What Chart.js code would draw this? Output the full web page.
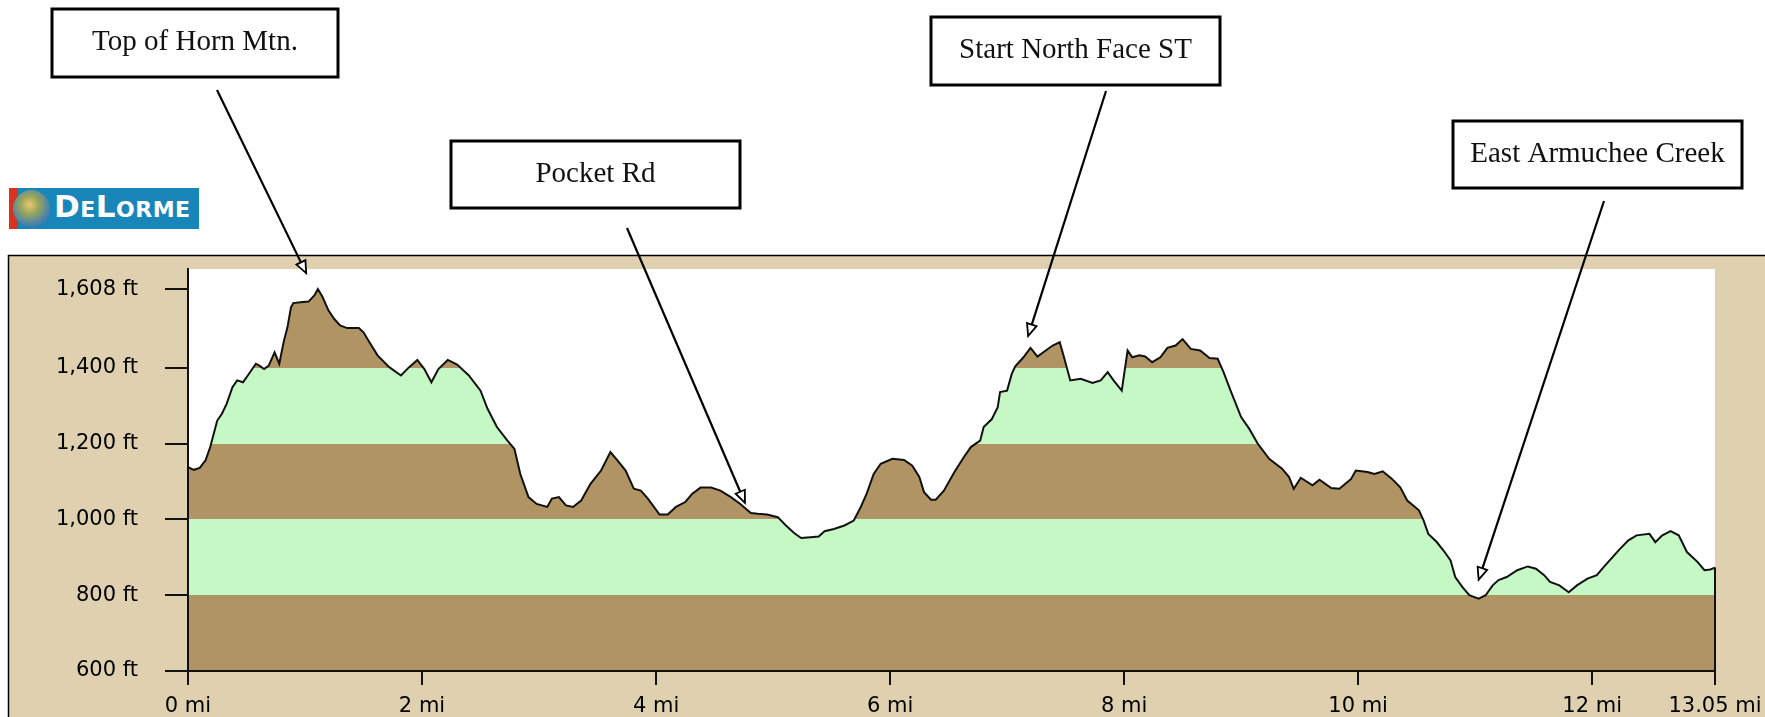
<!DOCTYPE html>
<html>
<head>
<meta charset="utf-8">
<title>Elevation profile</title>
<script src="https://cdn.jsdelivr.net/npm/chart.js@4.4.1/dist/chart.umd.min.js"></script>
<style>
  html, body { margin: 0; padding: 0; background: #fff; overflow: hidden; }
  #wrap { position: relative; width: 1765px; height: 717px; }
  #profile { position: absolute; left: 0; top: 0; }
  .logo {
    position: absolute; left: 9px; top: 188px; width: 190px; height: 41px; overflow: hidden;
    background: linear-gradient(90deg, #d6341f 0px, #d6341f 9px, #1886b9 9px);
  }
  .logo .globe {
    position: absolute; left: 4px; top: 2px; width: 37px; height: 37px; border-radius: 50%;
    background: radial-gradient(circle at 45% 40%, #e9c773 0%, #9aa55a 30%, #4f86a8 62%, #2a5f93 100%);
  }
  .logo .name {
    position: absolute; left: 45px; top: 0; line-height: 41px; color: #fff;
    font: bold 31px "DejaVu Sans"; font-variant: small-caps; letter-spacing: 0.5px;
  }
</style>
</head>
<body>
<div id="wrap">
  <canvas id="profile" width="1765" height="717"></canvas>
  <div class="logo"><div class="globe"></div><div class="name">DeLorme</div></div>
</div>
<script>
// Profile samples: distance (mi) and elevation (ft)
const miles = [
  0.00, 0.05, 0.10, 0.15, 0.19, 0.22, 0.25, 0.29, 0.33, 0.38, 0.42, 0.47, 0.52, 0.58, 0.61, 0.65,
  0.69, 0.74, 0.78, 0.82, 0.85, 0.88, 0.90, 0.96, 1.03, 1.08, 1.11, 1.15, 1.20, 1.25, 1.30, 1.36,
  1.46, 1.50, 1.56, 1.62, 1.72, 1.82, 1.89, 1.96, 2.02, 2.08, 2.14, 2.22, 2.30, 2.40, 2.50, 2.56,
  2.64, 2.73, 2.79, 2.84, 2.91, 2.98, 3.07, 3.11, 3.17, 3.23, 3.29, 3.36, 3.44, 3.53, 3.61, 3.67,
  3.74, 3.81, 3.87, 3.93, 4.03, 4.10, 4.17, 4.25, 4.31, 4.38, 4.47, 4.55, 4.64, 4.72, 4.81, 4.87,
  4.95, 5.04, 5.11, 5.18, 5.24, 5.32, 5.39, 5.44, 5.52, 5.61, 5.69, 5.75, 5.80, 5.86, 5.92, 6.02,
  6.12, 6.19, 6.25, 6.29, 6.35, 6.39, 6.46, 6.55, 6.63, 6.69, 6.77, 6.80, 6.87, 6.92, 6.94, 7.00,
  7.04, 7.07, 7.14, 7.20, 7.26, 7.33, 7.39, 7.45, 7.49, 7.54, 7.63, 7.73, 7.80, 7.86, 7.91, 7.98,
  8.03, 8.07, 8.13, 8.18, 8.24, 8.31, 8.37, 8.44, 8.50, 8.57, 8.65, 8.73, 8.80, 8.85, 8.91, 9.00,
  9.07, 9.14, 9.24, 9.35, 9.41, 9.45, 9.51, 9.61, 9.67, 9.77, 9.84, 9.94, 9.98, 10.08, 10.14, 10.21,
  10.29, 10.36, 10.42, 10.52, 10.56, 10.60, 10.67, 10.73, 10.79, 10.83, 10.89, 10.95, 11.03, 11.09, 11.15, 11.20,
  11.27, 11.36, 11.45, 11.52, 11.59, 11.64, 11.72, 11.80, 11.87, 11.96, 12.04, 12.10, 12.19, 12.24, 12.31, 12.38,
  12.49, 12.54, 12.60, 12.67, 12.74, 12.81, 12.90, 12.96, 13.01, 13.05
];
const elevations = [
  1138, 1131, 1136, 1156, 1191, 1226, 1261, 1279, 1305, 1349, 1367, 1362, 1384, 1411, 1406, 1397,
  1406, 1441, 1411, 1472, 1507, 1560, 1571, 1573, 1575, 1591, 1608, 1587, 1552, 1529, 1512, 1505,
  1505, 1494, 1463, 1433, 1402, 1380, 1402, 1421, 1397, 1362, 1397, 1421, 1409, 1380, 1340, 1292,
  1244, 1208, 1186, 1120, 1059, 1041, 1033, 1055, 1059, 1037, 1033, 1050, 1094, 1129, 1178, 1156,
  1129, 1081, 1076, 1055, 1013, 1013, 1033, 1046, 1068, 1084, 1084, 1076, 1059, 1041, 1017, 1015,
  1013, 1006, 984, 964, 951, 953, 955, 969, 975, 984, 997, 1033, 1068, 1120, 1147, 1160,
  1157, 1142, 1112, 1072, 1052, 1052, 1076, 1125, 1164, 1191, 1208, 1244, 1265, 1296, 1336, 1340,
  1384, 1404, 1428, 1453, 1430, 1446, 1459, 1468, 1424, 1367, 1371, 1360, 1367, 1389, 1367, 1340,
  1446, 1428, 1433, 1430, 1415, 1428, 1453, 1459, 1476, 1450, 1446, 1426, 1424, 1389, 1340, 1270,
  1239, 1201, 1160, 1134, 1112, 1081, 1110, 1090, 1105, 1083, 1081, 1107, 1129, 1125, 1120, 1127,
  1107, 1085, 1050, 1024, 997, 962, 941, 918, 892, 848, 822, 800, 791, 800, 826, 840,
  848, 866, 876, 870, 853, 835, 826, 808, 826, 844, 853, 875, 906, 923, 945, 958,
  962, 940, 958, 969, 958, 914, 888, 866, 868, 873
];

// Axis ticks and range
const xTicks = [0, 2, 4, 6, 8, 10, 12, 13.05];
const yTicks = [600, 800, 1000, 1200, 1400, 1608];
const xMax = 13.05;
const yMin = 600;
const yMax = 1661;

// Elevation bands, alternating brown / green from the bottom
const bandEdges = [600, 800, 1000, 1200, 1400];
const bandColors = ['#b09464', '#c6f8c6'];

// Waypoint callouts (arrow tip in miles / feet)
const waypointNames = ['Top of Horn Mtn.', 'Pocket Rd', 'Start North Face ST', 'East Armuchee Creek'];
const waypointMiles = [1.01, 4.76, 7.18, 11.03];
const waypointElevations = [1650, 1044, 1484, 841];

// callout box placement in page pixels
const calloutBoxes = [
  { x: 52, y: 9, w: 286, h: 68, fromX: 217, fromY: 90 },
  { x: 451, y: 141, w: 289, h: 67, fromX: 627, fromY: 228 },
  { x: 931, y: 17, w: 289, h: 68, fromX: 1106, fromY: 91 },
  { x: 1453, y: 121, w: 289, h: 67, fromX: 1604, fromY: 201 }
];

const axisFont = { family: 'DejaVu Sans', size: 21 };
const inkColor = '#111111';

// Build the banded fill from the y scale
const bandFill = (context) => {
  const chart = context.chart;
  const area = chart.chartArea;
  if (!area) return bandColors[0];
  const y = chart.scales.y;
  const span = area.bottom - area.top;
  const offset = v => Math.min(1, Math.max(0, (area.bottom - y.getPixelForValue(v)) / span));
  const g = chart.ctx.createLinearGradient(0, area.bottom, 0, area.top);
  bandEdges.forEach((edge, i) => {
    const next = i + 1 < bandEdges.length ? bandEdges[i + 1] : y.max;
    const col = bandColors[i % 2];
    g.addColorStop(offset(edge), col);
    g.addColorStop(offset(next), col);
  });
  return g;
};

// Tan panel behind the plot
const panelPlugin = {
  id: 'panel',
  beforeDraw(chart) {
    const { ctx, chartArea: a, width, height } = chart;
    const top = a.top - 14;
    ctx.save();
    ctx.fillStyle = '#ffffff';
    ctx.fillRect(0, 0, width, height);
    ctx.fillStyle = '#dfd1af';
    ctx.fillRect(8, top, width - 8, height - top);
    ctx.fillStyle = '#ffffff';
    ctx.fillRect(a.left, a.top, a.right - a.left, a.bottom - a.top);
    ctx.strokeStyle = '#000';
    ctx.lineWidth = 1.5;
    ctx.beginPath();
    ctx.moveTo(8.5, height);
    ctx.lineTo(8.5, top + 0.5);
    ctx.lineTo(width, top + 0.5);
    ctx.stroke();
    ctx.restore();
  }
};

// Close the profile on the right down to the axis
const edgePlugin = {
  id: 'profileEdge',
  afterDatasetsDraw(chart) {
    const pts = chart.getDatasetMeta(0).data;
    const last = pts[pts.length - 1];
    const ctx = chart.ctx;
    ctx.save();
    ctx.strokeStyle = inkColor;
    ctx.lineWidth = 2;
    ctx.beginPath();
    ctx.moveTo(last.x, last.y);
    ctx.lineTo(last.x, chart.chartArea.bottom);
    ctx.stroke();
    ctx.restore();
  }
};

// Labelled boxes with hollow arrowheads
const calloutPlugin = {
  id: 'callouts',
  afterDraw(chart) {
    const { ctx, scales } = chart;
    ctx.save();
    waypointNames.forEach((name, i) => {
      const b = calloutBoxes[i];
      ctx.fillStyle = '#fff';
      ctx.fillRect(b.x, b.y, b.w, b.h);
      ctx.strokeStyle = '#000';
      ctx.lineWidth = 3;
      ctx.strokeRect(b.x, b.y, b.w, b.h);
      ctx.fillStyle = '#111';
      ctx.font = '29px "Liberation Serif"';
      ctx.textAlign = 'center';
      ctx.textBaseline = 'alphabetic';
      ctx.fillText(name, b.x + b.w / 2, b.y + 41);

      const tx = scales.x.getPixelForValue(waypointMiles[i]);
      const ty = scales.y.getPixelForValue(waypointElevations[i]);
      const dx = tx - b.fromX, dy = ty - b.fromY;
      const len = Math.hypot(dx, dy);
      const ux = dx / len, uy = dy / len;
      const head = 12, half = 5;
      const bx = tx - ux * head, by = ty - uy * head;
      ctx.strokeStyle = '#000';
      ctx.lineWidth = 2.2;
      ctx.beginPath();
      ctx.moveTo(b.fromX, b.fromY);
      ctx.lineTo(bx, by);
      ctx.stroke();
      ctx.beginPath();
      ctx.moveTo(tx, ty);
      ctx.lineTo(bx - uy * half, by + ux * half);
      ctx.lineTo(bx + uy * half, by - ux * half);
      ctx.closePath();
      ctx.fillStyle = '#fff';
      ctx.fill();
      ctx.lineWidth = 1.8;
      ctx.stroke();
    });
    ctx.restore();
  }
};

const initProfile = () => {
  const ctx = document.getElementById('profile').getContext('2d');
  new Chart(ctx, {
    type: 'line',
    data: {
      datasets: [{
        data: miles.map((m, i) => ({ x: m, y: elevations[i] })),
        borderColor: inkColor,
        borderWidth: 2,
        backgroundColor: bandFill,
        fill: 'start',
        pointRadius: 0,
        tension: 0
      }]
    },
    options: {
      responsive: false,
      animation: false,
      devicePixelRatio: 1,
      layout: { padding: { top: 269, right: 50, left: 0, bottom: 0 } },
      plugins: {
        legend: { display: false },
        tooltip: { enabled: false }
      },
      scales: {
        x: {
          type: 'linear',
          min: 0,
          max: xMax,
          afterBuildTicks: s => { s.ticks = xTicks.map(v => ({ value: v })); },
          afterFit: s => { s.height = 46; s.paddingLeft = 0; s.paddingRight = 0; },
          grid: { drawOnChartArea: false, drawTicks: true, tickLength: 14, color: inkColor, lineWidth: 2 },
          border: { display: true, color: inkColor, width: 2, z: 1 },
          ticks: {
            callback: v => v + ' mi',
            font: axisFont,
            color: '#000',
            padding: 9,
            maxRotation: 0,
            autoSkip: false
          }
        },
        y: {
          type: 'linear',
          min: yMin,
          max: yMax,
          afterBuildTicks: s => { s.ticks = yTicks.map(v => ({ value: v })); },
          afterFit: s => { s.width = 188; s.paddingTop = 0; s.paddingBottom = 0; },
          grid: { drawOnChartArea: false, drawTicks: true, tickLength: 23, color: inkColor, lineWidth: 2 },
          border: { display: true, color: inkColor, width: 2, z: 1 },
          ticks: {
            callback: v => v.toLocaleString('en-US') + ' ft',
            font: axisFont,
            color: '#000',
            padding: 27,
            autoSkip: false
          }
        }
      }
    },
    plugins: [panelPlugin, edgePlugin, calloutPlugin]
  });
};

document.addEventListener('DOMContentLoaded', initProfile);
</script>
</body>
</html>
